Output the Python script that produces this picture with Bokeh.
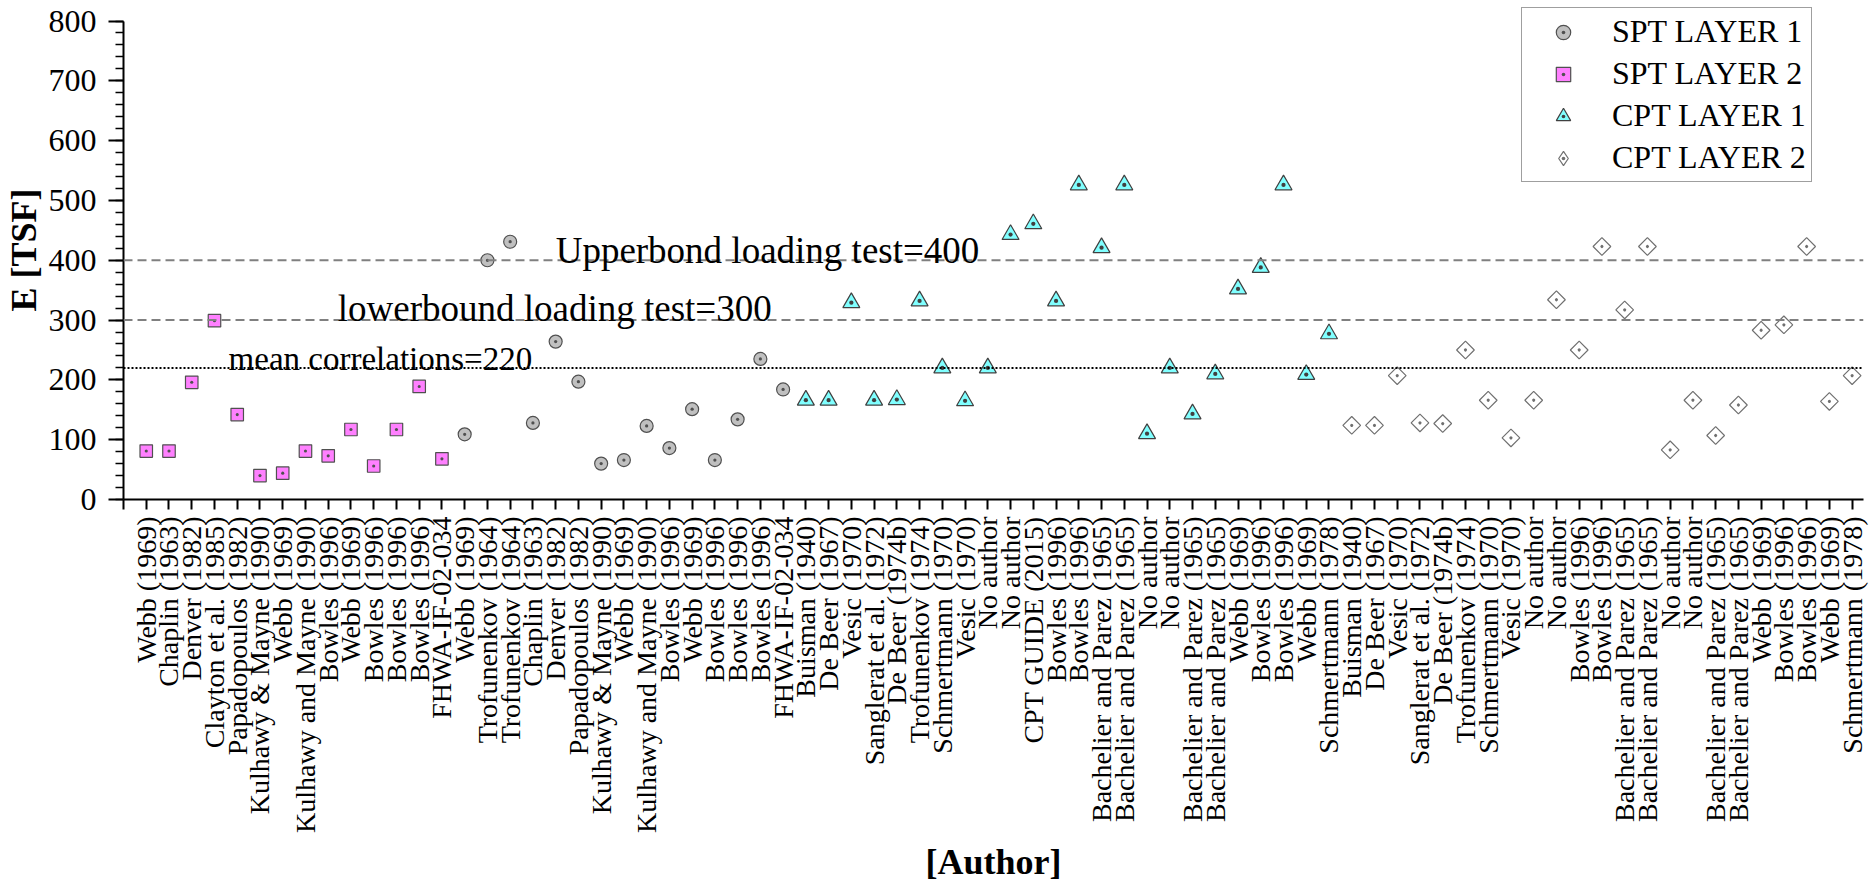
import math

from bokeh.embed import file_html
from bokeh.models import ColumnDataSource, FixedTicker, Label, Legend, LegendItem, Range1d, Span
from bokeh.plotting import figure
from bokeh.resources import INLINE

# ---- data -------------------------------------------------------------
spt2_authors = ["Webb (1969)", "Chaplin (1963)", "Denver (1982)", "Clayton et al. (1985)",
                "Papadopoulos (1982)", "Kulhawy & Mayne (1990)", "Webb (1969)",
                "Kulhawy and Mayne (1990)", "Bowles (1996)", "Webb (1969)", "Bowles (1996)",
                "Bowles (1996)", "Bowles (1996)", "FHWA-IF-02-034"]
spt2_e = [81, 81, 196, 299, 142, 40, 44, 81, 73, 117, 56, 117, 189, 68]

spt1_authors = ["Webb (1969)", "Trofunenkov (1964)", "Trofunenkov (1964)", "Chaplin (1963)",
                "Denver (1982)", "Papadopoulos (1982)", "Kulhawy & Mayne (1990)", "Webb (1969)",
                "Kulhawy and Mayne (1990)", "Bowles (1996)", "Webb (1969)", "Bowles (1996)",
                "Bowles (1996)", "Bowles (1996)", "FHWA-IF-02-034"]
spt1_e = [109, 400, 431, 128, 264, 197, 60, 66, 123, 86, 151, 66, 134, 235, 184]

cpt1_authors = ["Buisman (1940)", "De Beer (1967)", "Vesic (1970)", "Sanglerat et al. (1972)",
                "De Beer (1974b)", "Trofunenkov (1974)", "Schmertmann (1970)", "Vesic (1970)",
                "No author", "No author", "CPT GUIDE (2015)", "Bowles (1996)", "Bowles (1996)",
                "Bachelier and Parez (1965)", "Bachelier and Parez (1965)", "No author",
                "No author", "Bachelier and Parez (1965)", "Bachelier and Parez (1965)",
                "Webb (1969)", "Bowles (1996)", "Bowles (1996)", "Webb (1969)",
                "Schmertmann (1978)"]
cpt1_e = [166, 166, 329, 166, 167, 332, 220, 165, 220, 443, 461, 332, 526, 421, 526,
          110, 220, 143, 210, 352, 388, 526, 209, 277]

cpt2_authors = ["Buisman (1940)", "De Beer (1967)", "Vesic (1970)", "Sanglerat et al. (1972)",
                "De Beer (1974b)", "Trofunenkov (1974)", "Schmertmann (1970)", "Vesic (1970)",
                "No author", "No author", "Bowles (1996)", "Bowles (1996)",
                "Bachelier and Parez (1965)", "Bachelier and Parez (1965)", "No author",
                "No author", "Bachelier and Parez (1965)", "Bachelier and Parez (1965)",
                "Webb (1969)", "Bowles (1996)", "Bowles (1996)", "Webb (1969)",
                "Schmertmann (1978)"]
cpt2_e = [124, 124, 207, 128, 127, 250, 166, 103, 166, 334, 250, 423, 317, 423, 83, 166,
          107, 158, 283, 292, 423, 164, 207]

UPPER_BOUND = 400
LOWER_BOUND = 300
MEAN_CORR = 220

Y_MAX = 800
y_ticks = list(range(0, Y_MAX + 1, 100))
y_minor = list(range(0, Y_MAX + 1, 20))

# ---- build the category positions --------------------------------------
series = [
    ("SPT LAYER 1", spt1_authors, spt1_e),
    ("SPT LAYER 2", spt2_authors, spt2_e),
    ("CPT LAYER 1", cpt1_authors, cpt1_e),
    ("CPT LAYER 2", cpt2_authors, cpt2_e),
]
order = [("SPT LAYER 2", spt2_authors), ("SPT LAYER 1", spt1_authors),
         ("CPT LAYER 1", cpt1_authors), ("CPT LAYER 2", cpt2_authors)]
all_authors = [a for _, group in order for a in group]
n_cat = len(all_authors)

start = {}
pos = 1
for name, group in order:
    start[name] = pos
    pos += len(group)

FONT = "Liberation Serif"
INK = "black"

# frame fills the top of the canvas; the y axis line stops at Y_MAX
FRAME_H = 884 - 381
Y_TOP = Y_MAX * FRAME_H / (FRAME_H - 20.7)

p = figure(width=1872, height=884, output_backend="svg", toolbar_location=None,
           x_range=Range1d(0, n_cat + 0.5), y_range=Range1d(0, Y_TOP),
           min_border_left=123, min_border_right=9, min_border_top=0, min_border_bottom=381)
p.outline_line_color = None
p.xgrid.visible = False
p.ygrid.visible = False
p.background_fill_color = "white"
p.border_fill_color = "white"

# ---- reference lines ----------------------------------------------------
p.add_layout(Span(location=UPPER_BOUND, dimension="width", line_color="#808080",
                  line_width=2, line_dash="9 5"))
p.add_layout(Span(location=LOWER_BOUND, dimension="width", line_color="#808080",
                  line_width=2, line_dash="9 5"))
p.add_layout(Span(location=MEAN_CORR, dimension="width", line_color="black",
                  line_width=2, line_dash="2 2"))

p.add_layout(Label(x=19.0, y=417, text=f"Upperbond loading test={UPPER_BOUND}",
                   text_font=FONT, text_font_size="37px", text_baseline="alphabetic",
                   text_color=INK))
p.add_layout(Label(x=9.42, y=319, text=f"lowerbound loading test={LOWER_BOUND}",
                   text_font=FONT, text_font_size="37px", text_baseline="alphabetic",
                   text_color=INK))
p.add_layout(Label(x=4.62, y=235.7, text=f"mean correlations={MEAN_CORR}",
                   text_font=FONT, text_font_size="33px", text_baseline="alphabetic",
                   text_color=INK))

# ---- markers --------------------------------------------------------------
styles = {
    "SPT LAYER 1": dict(marker="circle_dot", size=13, fill_color="#c0c0c0", line_color="#505050"),
    "SPT LAYER 2": dict(marker="square_dot", size=12.5, fill_color="#ff80ff", line_color="#505050"),
    "CPT LAYER 1": dict(marker="triangle_dot", size=17, fill_color="#80ffff", line_color="#404040"),
    "CPT LAYER 2": dict(marker="square_dot", size=12.5, angle=math.pi / 4,
                        fill_color="white", line_color="#707070"),
}

items = []
for name, authors, values in series:
    xs = [start[name] + i for i in range(len(values))]
    src = ColumnDataSource(dict(x=xs, e=values, author=authors))
    r = p.scatter("x", "e", source=src, line_width=1.2, **styles[name])
    legend_r = r
    if name == "CPT LAYER 2":
        # the legend swatch is drawn unrotated, so it gets a diamond glyph of its own
        # (a single NaN row: nothing appears in the plot area)
        legend_r = p.scatter(x=[float("nan")], y=[float("nan")], marker="diamond_dot",
                             size=17, fill_color="white", line_color="#707070",
                             line_width=1.2)
    items.append(LegendItem(label=name, renderers=[legend_r]))

legend = Legend(items=items, location=(1398, 317), margin=0, padding=5, spacing=5,
                glyph_width=72, glyph_height=36, label_height=36, label_standoff=13,
                label_text_font=FONT, label_text_font_size="32px", label_text_color=INK,
                border_line_color="#404040", border_line_width=1.5,
                background_fill_color="white", background_fill_alpha=1.0)
p.add_layout(legend, "center")

# ---- axes -----------------------------------------------------------------
xa = p.xaxis[0]
xa.ticker = FixedTicker(ticks=list(range(0, n_cat + 1)))
overrides = {0: ""}
for i, a in enumerate(all_authors):
    overrides[i + 1] = a
xa.major_label_overrides = overrides
xa.major_label_orientation = math.pi / 2
xa.major_label_text_font = FONT
xa.major_label_text_font_size = "28px"
xa.major_label_text_color = INK
xa.major_label_standoff = 7
xa.major_tick_out = 10
xa.major_tick_in = 0
xa.minor_tick_line_color = None
xa.axis_line_width = 2
xa.axis_line_color = INK
xa.major_tick_line_width = 2
xa.major_tick_line_color = INK
xa.axis_label = "[Author]"
xa.axis_label_text_font = FONT
xa.axis_label_text_font_style = "bold"
xa.axis_label_text_font_size = "36px"
xa.axis_label_text_color = INK
xa.axis_label_standoff = 6

ya = p.yaxis[0]
ya.bounds = (0, Y_MAX)
ya.ticker = FixedTicker(ticks=y_ticks, minor_ticks=y_minor)
ya.major_label_text_font = FONT
ya.major_label_text_font_size = "32px"
ya.major_label_text_color = INK
ya.major_label_standoff = 12
ya.major_tick_out = 15
ya.major_tick_in = 0
ya.minor_tick_out = 8
ya.minor_tick_in = 0
ya.axis_line_width = 2
ya.axis_line_color = INK
ya.major_tick_line_width = 2
ya.major_tick_line_color = INK
ya.minor_tick_line_width = 1.5
ya.minor_tick_line_color = INK
ya.axis_label = "E [TSF]"
ya.axis_label_text_font = FONT
ya.axis_label_text_font_style = "bold"
ya.axis_label_text_font_size = "36px"
ya.axis_label_text_color = INK
ya.axis_label_standoff = 2

open("out.html", "w").write(file_html(p, INLINE))
